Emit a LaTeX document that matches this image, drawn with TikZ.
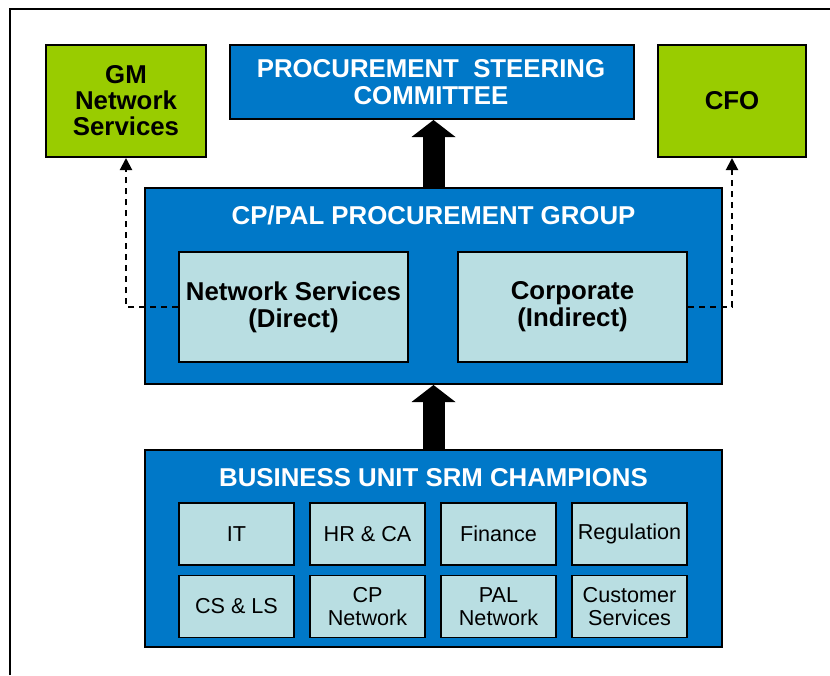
\documentclass[tikz,border=0pt]{standalone}
\usepackage{fontspec}
\setmainfont{Liberation Sans}
\usetikzlibrary{arrows.meta}
\definecolor{unitblue}{RGB}{0,120,200}
\definecolor{leafgreen}{RGB}{153,204,0}
\definecolor{paleteal}{RGB}{185,222,226}
\begin{document}
\begin{tikzpicture}[x=1pt,y=-1pt,
  bluebox/.style={draw=black, line width=2pt, fill=unitblue, inner sep=0pt},
  greenbox/.style={draw=black, line width=2pt, fill=leafgreen, align=center, inner sep=0pt,
    font=\fontsize{25.8}{26}\selectfont\bfseries},
  headtext/.style={text=white, align=center, font=\fontsize{25.8}{27}\selectfont\bfseries},
  deptbox/.style={draw=black, line width=2pt, fill=paleteal, align=center, inner sep=0pt,
    minimum width=229pt, minimum height=110pt, font=\fontsize{25.8}{27}\selectfont\bfseries},
  unitbox/.style={draw=black, line width=1.5pt, fill=paleteal, align=center, inner sep=0pt,
    minimum width=115pt, minimum height=62pt, font=\fontsize{21.6}{23}\selectfont},
  reportline/.style={dashed, dash pattern=on 6pt off 5pt, line width=2pt, -{Triangle[width=12pt,length=12pt]}},
  bigarrow/.style={line width=22pt, -{Triangle[width=44pt,length=17pt,line width=0pt]}}]
\useasboundingbox (0,0) rectangle (830,675);
\draw[line width=1.5pt] (10,675) -- (10,9) -- (830,9);

% top row
\node[greenbox, minimum width=160pt, minimum height=112pt] (gm) at (126,101) {GM\\Network\\Services};
\node[bluebox, minimum width=404pt, minimum height=74pt] (steering) at (432,82) {};
\node[headtext] (steeringname) at (431,82) {PROCUREMENT\ \ STEERING\\COMMITTEE};
\node[greenbox, minimum width=148pt, minimum height=112pt] (cfo) at (732,101) {CFO};

% procurement group
\node[bluebox, minimum width=577pt, minimum height=196pt] (procgroup) at (433.5,286) {};
\node[headtext] (groupname) at (433.5,215) {CP/PAL PROCUREMENT GROUP};
\node[deptbox] (netdir) at (293.5,307) {Network Services\\(Direct)};
\node[deptbox] (corp) at (572.5,307) {Corporate\\(Indirect)};

% business units
\node[bluebox, minimum width=577pt, minimum height=197pt] (srm) at (433.5,548.5) {};
\node[headtext] (srmname) at (433.5,478) {BUSINESS UNIT SRM CHAMPIONS};
\foreach \name/\txt [count=\i from 0] in {it/IT, hrca/HR \& CA, fin/Finance, reg/Regulation}
  \node[unitbox] (\name) at (236.5+131*\i,534) {\txt};
\foreach \name/\txt [count=\i from 0] in {csls/CS \& LS, cpnet/CP\\Network, palnet/PAL\\Network, custserv/Customer\\Services}
  \node[unitbox] (\name) at (236.5+131*\i,606.5) {\txt};

% connectors
\draw[bigarrow] (procgroup.north) -- (steering.south -| procgroup.north);
\draw[bigarrow] (srm.north) -- (procgroup.south);
\draw[reportline] (netdir.west) -| (gm.south);
\draw[reportline] (corp.east) -| (cfo.south);
\end{tikzpicture}
\end{document}
